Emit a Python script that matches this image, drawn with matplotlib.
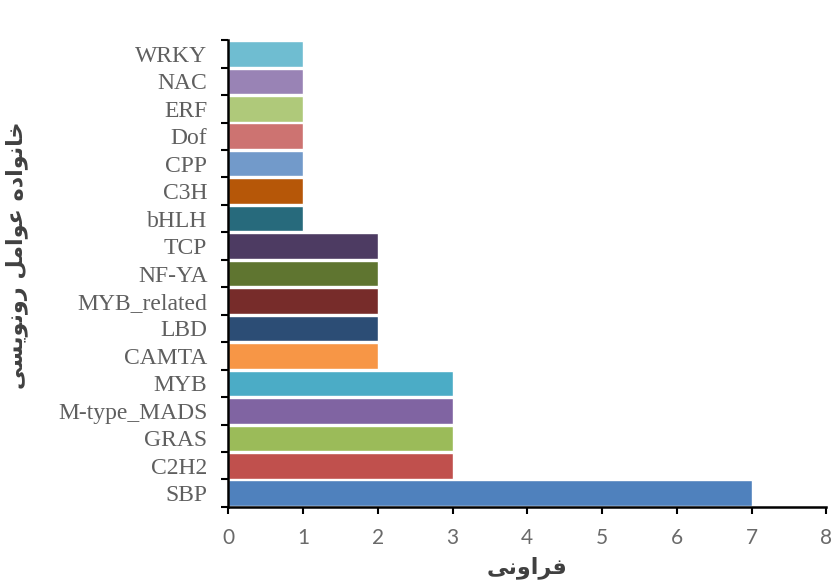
import matplotlib
matplotlib.use("Agg")
import matplotlib.pyplot as plt
import numpy as np

# transcription factor families, bottom to top
families = ["SBP", "C2H2", "GRAS", "M-type_MADS", "MYB", "CAMTA", "LBD",
            "MYB_related", "NF-YA", "TCP", "bHLH", "C3H", "CPP", "Dof",
            "ERF", "NAC", "WRKY"]
counts = [7, 3, 3, 3, 3, 2, 2, 2, 2, 2, 1, 1, 1, 1, 1, 1, 1]
colors = ["#4F81BD", "#C0504D", "#9BBB59", "#8064A2", "#4BACC6", "#F79646",
          "#2C4D75", "#772C2A", "#5F7530", "#4D3B62", "#276A7C", "#B65708",
          "#729ACA", "#CD7371", "#AFC97A", "#9983B5", "#6FBDD1"]
x_ticks = [0, 1, 2, 3, 4, 5, 6, 7, 8]

# Persian axis titles, pre-shaped (presentation forms, visual order)
xlabel_fa = "\uFEF0\uFEE7\uFEED\uFE8D\uFEAE\uFED3"  # فراونی
ylabel_fa = ("\uFEF0\uFEB4\uFEF3\uFEEE\uFEE7\uFEED\uFEAD "
             "\uFEDE\uFEE3\uFE8D\uFEEE\uFECB "
             "\uFEE9\uFEA9\uFE8D\uFEEE\uFEE7\uFE8E\uFEA7")  # خانواده عوامل رونویسی

fig = plt.figure(figsize=(8.33, 5.82), dpi=100)
ax = fig.add_axes([0.274, 0.129, 0.718, 0.802])

y = np.arange(len(families))
ax.barh(y, counts, height=0.93, color=colors, edgecolor="white", linewidth=1.0)

ax.set_xlim(0, 8)
ax.set_ylim(-0.5, len(families) - 0.5)

# tick marks between categories, labels at bar centres
ax.set_yticks(np.arange(-0.5, len(families), 1.0))
ax.set_yticklabels([])
ax.set_yticks(y, minor=True)
ax.set_yticklabels(families, minor=True, fontfamily="Liberation Serif",
                   fontsize=17, color="#5f5f5f")
ax.tick_params(axis="y", which="minor", length=0, pad=15)
ax.tick_params(axis="y", which="major", length=5, width=1.5, direction="out")

ax.set_xticks(x_ticks)
ax.set_xticklabels([str(v) for v in x_ticks], fontfamily="Lato",
                   fontsize=15, color="#6a6a6a")
ax.tick_params(axis="x", length=5, width=1.5, direction="out", pad=10)

for side in ("top", "right"):
    ax.spines[side].set_visible(False)
for side in ("left", "bottom"):
    ax.spines[side].set_linewidth(1.8)
    ax.spines[side].set_color("black")

ax.set_xlabel(xlabel_fa, fontfamily="DejaVu Sans", fontweight="bold",
              fontsize=16, color="#404040", labelpad=6)
ax.set_ylabel(ylabel_fa, fontfamily="DejaVu Sans", fontweight="bold",
              fontsize=16, color="#404040")
ax.yaxis.set_label_coords(-0.335, 0.54)

fig.savefig("out.png", dpi=100)
